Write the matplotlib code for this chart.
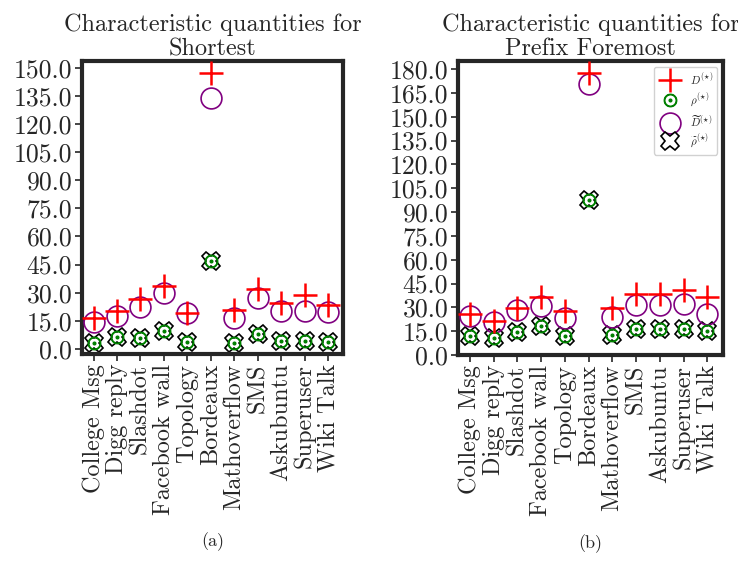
import matplotlib
matplotlib.use("Agg")
import matplotlib.pyplot as plt
import numpy as np

plt.rcParams["font.family"] = "cmr10"
plt.rcParams["mathtext.fontset"] = "cm"
plt.rcParams["axes.formatter.use_mathtext"] = True
plt.rcParams["text.color"] = "#262626"
plt.rcParams["xtick.color"] = "#262626"
plt.rcParams["ytick.color"] = "#262626"

NETWORKS = [
    "College Msg", "Digg reply", "Slashdot", "Facebook wall", "Topology",
    "Bordeaux", "Mathoverflow", "SMS", "Askubuntu", "Superuser", "Wiki Talk",
]

# Shortest
SH_D = [16.4, 20.5, 26.7, 33.7, 19.1, 147.0, 20.8, 31.9, 24.4, 28.9, 23.5]
SH_D_TILDE = [14.6, 17.8, 22.6, 29.8, 19.1, 134.0, 16.7, 27.1, 20.5, 20.5, 19.6]
SH_RHO = [3.0, 6.2, 5.7, 9.3, 3.6, 46.7, 3.4, 8.0, 4.3, 4.3, 3.9]
SH_RHO_TILDE = [3.0, 6.2, 5.7, 9.3, 3.6, 46.7, 3.4, 8.0, 4.3, 4.3, 3.9]

# Prefix Foremost
PF_D = [25.7, 21.5, 29.9, 36.6, 27.4, 177.3, 29.5, 38.7, 38.7, 41.0, 36.6]
PF_D_TILDE = [24.7, 20.5, 28.2, 30.9, 23.0, 170.4, 24.0, 31.6, 31.6, 32.0, 25.7]
PF_RHO = [12.1, 10.9, 14.6, 18.0, 11.7, 97.8, 12.8, 16.3, 16.3, 16.3, 15.3]
PF_RHO_TILDE = [12.1, 10.9, 14.6, 18.0, 11.7, 97.8, 12.8, 16.3, 16.3, 16.3, 15.3]

SH_TICKS = np.arange(0, 151, 15)
PF_TICKS = np.arange(0, 181, 15)


def draw_panel(ax, d, d_tilde, rho, rho_tilde, title, ticks, ylim, caption):
    x = np.arange(len(NETWORKS))
    ax.plot(x, d, ls="none", marker="+", ms=17, mew=1.8, color="red",
            label=r"$D^{(\star)}$", zorder=5)
    ax.plot(x, rho, ls="none", marker=r"$\odot$", ms=9, color="green",
            label=r"$\rho^{(\star)}$", zorder=4)
    ax.plot(x, d_tilde, ls="none", marker="o", ms=15, mfc="none", mew=1.2,
            mec="purple", label=r"$\widetilde{D}^{(\star)}$", zorder=3)
    ax.plot(x, rho_tilde, ls="none", marker="X", ms=13, mfc="white", mew=1.2,
            mec="black", label=r"$\widetilde{\rho}^{(\star)}$", zorder=2)

    ax.set_xticks(x)
    ax.set_xticklabels(NETWORKS, rotation=90, fontsize=17.5)
    ax.set_yticks(ticks)
    ax.set_yticklabels([f"{t:.1f}" for t in ticks], fontsize=18.5)
    ax.set_ylim(*ylim)
    ax.set_xlim(-0.5, len(NETWORKS) - 0.35)
    ax.set_title(title, fontsize=17.5, pad=4, linespacing=1.15)
    ax.tick_params(direction="out", length=5, width=1.2, color="#262626",
                   pad=2)
    for sp in ax.spines.values():
        sp.set_linewidth(3)
        sp.set_color("#262626")
    ax.text(0.5, -0.64, caption, transform=ax.transAxes, ha="center",
            va="center", fontsize=13)


fig = plt.figure(figsize=(7.38, 5.77), dpi=100)
ax1 = fig.add_axes([0.111, 0.3865, 0.354, 0.508])
ax2 = fig.add_axes([0.6206, 0.3847, 0.359, 0.5095])

draw_panel(ax1, SH_D, SH_D_TILDE, SH_RHO, SH_RHO_TILDE,
           "Characteristic quantities for\nShortest", SH_TICKS,
           (-2.7, 153.7), "(a)")
draw_panel(ax2, PF_D, PF_D_TILDE, PF_RHO, PF_RHO_TILDE,
           "Characteristic quantities for\nPrefix Foremost", PF_TICKS,
           (0.0, 185.0), "(b)")

ax2.legend(loc="upper right", fontsize=8, handletextpad=0.8,
           borderpad=0.4, labelspacing=0.4, framealpha=0.9)

fig.savefig("out.png", dpi=100)
